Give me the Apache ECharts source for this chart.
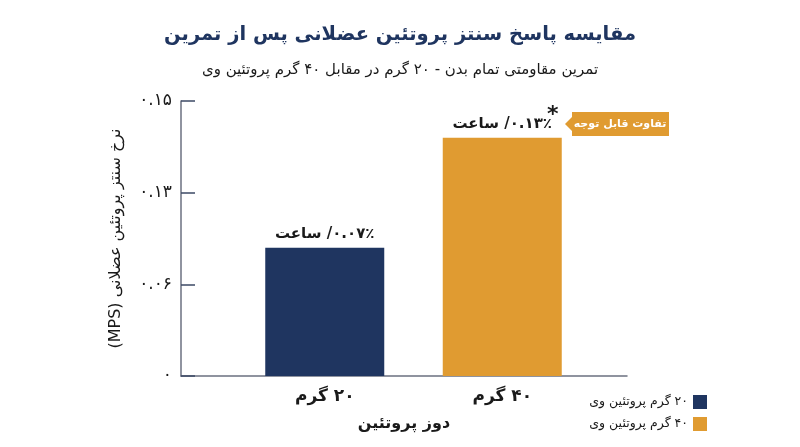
<!DOCTYPE html>
<html dir="rtl">
<head>
<meta charset="utf-8">
<script src="https://cdn.jsdelivr.net/npm/echarts@6/dist/echarts.min.js"></script>
</head>
<body style="margin:0;background:#fff;">
<div id="main" style="width: 800px;height:447px;"></div>
<script type="text/javascript">
    // داده‌های نمودار
    var categories = ['۲۰ گرم', '۴۰ گرم'];
    var seriesNames = ['۲۰ گرم پروتئین وی', '۴۰ گرم پروتئین وی'];
    var values20 = [0.07, null];
    var values40 = [null, 0.13];
    var tickLabels = ['۰', '۰.۰۶', '۰.۱۳', '۰.۱۵'];

    var navy = '#1f3560';
    var orange = '#e09b31';
    var font = 'DejaVu Sans';

    function fa(s) {
        return String(s).replace(/[0-9]/g, function (d) { return '۰۱۲۳۴۵۶۷۸۹'[d]; });
    }

    var myChart = echarts.init(document.getElementById('main'));

    var barLabel = {
        show: true,
        position: 'top',
        distance: 6,
        color: '#1a1a1a',
        fontFamily: font,
        fontWeight: 'bold',
        fontSize: 15,
        formatter: function (p) {
            return fa(p.value.toFixed(2)) + '٪/ ساعت';
        }
    };

    var option = {
        textStyle: {fontFamily: font},
        title: [{
            text: 'مقایسه پاسخ سنتز پروتئین عضلانی پس از تمرین',
            left: 'center',
            top: 20,
            textStyle: {color: navy, fontSize: 19.5, fontWeight: 'bold', fontFamily: font}
        }, {
            text: 'تمرین مقاومتی تمام بدن - ۲۰ گرم در مقابل ۴۰ گرم پروتئین وی',
            left: 'center',
            top: 58,
            textStyle: {color: '#1a1a1a', fontSize: 15, fontWeight: 'normal', fontFamily: font}
        }],
        legend: {
            orient: 'vertical',
            right: 88,
            top: 390,
            align: 'right',
            itemWidth: 14,
            itemHeight: 14,
            itemGap: 8,
            icon: 'rect',
            data: seriesNames,
            textStyle: {color: '#1a1a1a', fontSize: 12.5, fontFamily: font}
        },
        grid: [
            {left: 181, right: 173, top: 101, bottom: 71},
            {left: 236, right: 209, top: 101, bottom: 71}
        ],
        xAxis: [{
            gridIndex: 0,
            type: 'category',
            data: [''],
            name: 'دوز پروتئین',
            nameLocation: 'middle',
            nameGap: 40,
            nameTextStyle: {color: '#1a1a1a', fontSize: 16, fontWeight: 'bold', fontFamily: font},
            axisLine: {lineStyle: {color: '#6b7080', width: 1.5}},
            axisTick: {show: false},
            axisLabel: {show: false}
        }, {
            gridIndex: 1,
            type: 'category',
            data: categories,
            axisLine: {show: false},
            axisTick: {show: false},
            axisLabel: {
                margin: 12,
                color: '#1a1a1a',
                fontSize: 17,
                fontWeight: 'bold',
                fontFamily: font
            }
        }],
        yAxis: [{
            gridIndex: 0,
            type: 'value',
            min: 0,
            max: 0.15,
            interval: 0.05,
            name: 'نرخ سنتز پروتئین عضلانی (MPS)',
            nameLocation: 'middle',
            nameRotate: 90,
            nameGap: 57,
            nameTextStyle: {color: '#1a1a1a', fontSize: 16, fontWeight: 'normal', fontFamily: font},
            axisLine: {show: true, lineStyle: {color: '#6b7080', width: 1.5}},
            axisTick: {show: true, inside: true, length: 14, lineStyle: {color: '#3d4a66', width: 1.5}},
            splitLine: {show: false},
            axisLabel: {
                margin: 9,
                color: '#1a1a1a',
                fontSize: 17,
                fontFamily: font,
                formatter: function (v, i) { return tickLabels[i]; }
            }
        }, {
            gridIndex: 1,
            type: 'value',
            min: 0,
            max: 0.15,
            interval: 0.05,
            show: false
        }],
        series: [{
            name: seriesNames[0],
            type: 'bar',
            xAxisIndex: 1,
            yAxisIndex: 1,
            stack: 'dose',
            barWidth: 119,
            itemStyle: {color: navy},
            label: barLabel,
            data: values20
        }, {
            name: seriesNames[1],
            type: 'bar',
            xAxisIndex: 1,
            yAxisIndex: 1,
            stack: 'dose',
            barWidth: 119,
            itemStyle: {color: orange},
            label: barLabel,
            data: values40
        }],
        graphic: [{
            type: 'text',
            left: 547,
            top: 104,
            style: {text: '*', fill: '#1a1a1a', fontSize: 22, fontWeight: 'bold', fontFamily: font}
        }, {
            type: 'group',
            left: 565,
            top: 112,
            children: [{
                type: 'polygon',
                shape: {points: [[0, 12], [7, 5], [7, 19]]},
                style: {fill: orange}
            }, {
                type: 'rect',
                shape: {x: 7, y: 0, width: 97, height: 24},
                style: {fill: orange}
            }, {
                type: 'text',
                x: 55,
                y: 12,
                style: {
                    text: 'تفاوت قابل توجه',
                    fill: '#fff',
                    fontSize: 11,
                    fontWeight: 'bold',
                    fontFamily: font,
                    align: 'center',
                    verticalAlign: 'middle'
                }
            }]
        }]
    };

    myChart.setOption(option);
</script>
</body>
</html>
